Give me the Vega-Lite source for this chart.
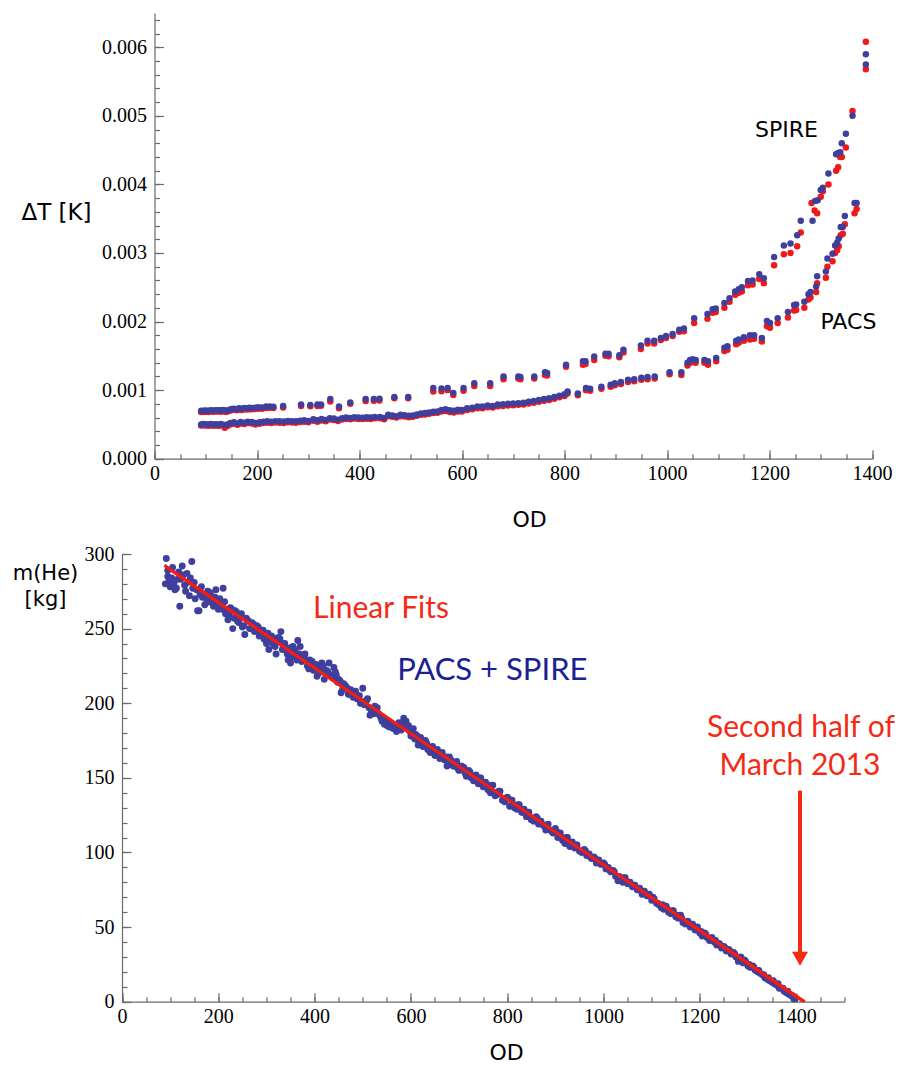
{
"$schema": "https://vega.github.io/schema/vega-lite/v6.json",
"padding": {"left": 11.5, "top": 13, "right": 0, "bottom": 0},
"autosize": {"type": "pad"},
"background": "white",
"spacing": 13,
"config": {
  "view": {"stroke": null},
  "axis": {"domainColor": "#6a6a6a", "tickColor": "#6a6a6a", "domainWidth": 1.2, "tickWidth": 1.2, "labelFont": "Liberation Serif", "labelFontSize": 20, "labelColor": "#000", "titleFont": "DejaVu Sans", "titleFontSize": 22, "titleFontWeight": "normal", "titleColor": "#000", "grid": false, "labelOverlap": false, "labelFlush": false}
},
"datasets": {
  "dt": [
    {"od":91,"dt":0.00068,"c":"r"},{"od":96,"dt":0.000682,"c":"r"},{"od":100,"dt":0.000685,"c":"r"},{"od":105,"dt":0.00068,"c":"r"},{"od":110,"dt":0.000688,"c":"r"},{"od":115,"dt":0.000684,"c":"r"},{"od":120,"dt":0.00069,"c":"r"},{"od":125,"dt":0.000688,"c":"r"},{"od":130,"dt":0.000686,"c":"r"},{"od":135,"dt":0.000692,"c":"r"},{"od":140,"dt":0.00068,"c":"r"},{"od":145,"dt":0.000695,"c":"r"},{"od":150,"dt":0.000705,"c":"r"},{"od":155,"dt":0.000712,"c":"r"},{"od":160,"dt":0.000705,"c":"r"},{"od":165,"dt":0.000715,"c":"r"},{"od":170,"dt":0.00071,"c":"r"},{"od":175,"dt":0.00072,"c":"r"},{"od":180,"dt":0.000716,"c":"r"},{"od":185,"dt":0.000722,"c":"r"},{"od":190,"dt":0.00072,"c":"r"},{"od":196,"dt":0.000725,"c":"r"},{"od":202,"dt":0.00073,"c":"r"},{"od":210,"dt":0.00073,"c":"r"},{"od":218,"dt":0.00074,"c":"r"},{"od":225,"dt":0.000742,"c":"r"},{"od":232,"dt":0.00074,"c":"r"},{"od":251,"dt":0.000745,"c":"r"},{"od":286,"dt":0.00077,"c":"r"},{"od":304,"dt":0.000765,"c":"r"},{"od":318,"dt":0.00077,"c":"r"},{"od":325,"dt":0.000772,"c":"r"},{"od":343,"dt":0.000835,"c":"r"},{"od":360,"dt":0.000735,"c":"r"},{"od":382,"dt":0.0008,"c":"r"},{"od":412,"dt":0.00084,"c":"r"},{"od":428,"dt":0.000845,"c":"r"},{"od":439,"dt":0.00085,"c":"r"},{"od":468,"dt":0.00088,"c":"r"},{"od":495,"dt":0.00088,"c":"r"},{"od":544,"dt":0.00098,"c":"r"},{"od":560,"dt":0.000985,"c":"r"},{"od":572,"dt":0.001,"c":"r"},{"od":583,"dt":0.00093,"c":"r"},{"od":603,"dt":0.00099,"c":"r"},{"od":624,"dt":0.00106,"c":"r"},{"od":655,"dt":0.00106,"c":"r"},{"od":681,"dt":0.00116,"c":"r"},{"od":710,"dt":0.00117,"c":"r"},{"od":714,"dt":0.00116,"c":"r"},{"od":741,"dt":0.00117,"c":"r"},{"od":762,"dt":0.00122,"c":"r"},{"od":766,"dt":0.001215,"c":"r"},{"od":803,"dt":0.00134,"c":"r"},{"od":836,"dt":0.00137,"c":"r"},{"od":841,"dt":0.00138,"c":"r"},{"od":858,"dt":0.00144,"c":"r"},{"od":880,"dt":0.0015,"c":"r"},{"od":886,"dt":0.001495,"c":"r"},{"od":907,"dt":0.00148,"c":"r"},{"od":915,"dt":0.00155,"c":"r"},{"od":949,"dt":0.0016,"c":"r"},{"od":962,"dt":0.00168,"c":"r"},{"od":975,"dt":0.00168,"c":"r"},{"od":988,"dt":0.00173,"c":"r"},{"od":998,"dt":0.00176,"c":"r"},{"od":1011,"dt":0.00179,"c":"r"},{"od":1024,"dt":0.00185,"c":"r"},{"od":1033,"dt":0.00186,"c":"r"},{"od":1053,"dt":0.00198,"c":"r"},{"od":1079,"dt":0.00204,"c":"r"},{"od":1089,"dt":0.00213,"c":"r"},{"od":1095,"dt":0.00214,"c":"r"},{"od":1112,"dt":0.0022,"c":"r"},{"od":1122,"dt":0.00229,"c":"r"},{"od":1133,"dt":0.00239,"c":"r"},{"od":1140,"dt":0.00242,"c":"r"},{"od":1146,"dt":0.00244,"c":"r"},{"od":1158,"dt":0.00253,"c":"r"},{"od":1167,"dt":0.00254,"c":"r"},{"od":1180,"dt":0.00262,"c":"r"},{"od":1189,"dt":0.00256,"c":"r"},{"od":1209,"dt":0.00282,"c":"r"},{"od":1228,"dt":0.00298,"c":"r"},{"od":1241,"dt":0.003,"c":"r"},{"od":1254,"dt":0.0031,"c":"r"},{"od":1261,"dt":0.0033,"c":"r"},{"od":1282,"dt":0.00373,"c":"r"},{"od":1288,"dt":0.00362,"c":"r"},{"od":1293,"dt":0.00358,"c":"r"},{"od":1300,"dt":0.00382,"c":"r"},{"od":1304,"dt":0.0039,"c":"r"},{"od":1315,"dt":0.004,"c":"r"},{"od":1330,"dt":0.0042,"c":"r"},{"od":1334,"dt":0.00425,"c":"r"},{"od":1338,"dt":0.0044,"c":"r"},{"od":1341,"dt":0.0044,"c":"r"},{"od":1349,"dt":0.00454,"c":"r"},{"od":1362,"dt":0.00507,"c":"r"},{"od":1388,"dt":0.00568,"c":"r"},{"od":1388,"dt":0.00608,"c":"r"},
    {"od":91,"dt":0.000485,"c":"r"},{"od":95,"dt":0.000488,"c":"r"},{"od":100,"dt":0.000484,"c":"r"},{"od":105,"dt":0.000482,"c":"r"},{"od":110,"dt":0.000488,"c":"r"},{"od":115,"dt":0.000482,"c":"r"},{"od":120,"dt":0.000485,"c":"r"},{"od":125,"dt":0.00048,"c":"r"},{"od":130,"dt":0.000486,"c":"r"},{"od":137,"dt":0.00045,"c":"r"},{"od":142,"dt":0.000478,"c":"r"},{"od":148,"dt":0.0005,"c":"r"},{"od":155,"dt":0.000508,"c":"r"},{"od":162,"dt":0.000495,"c":"r"},{"od":168,"dt":0.000515,"c":"r"},{"od":175,"dt":0.000505,"c":"r"},{"od":182,"dt":0.00052,"c":"r"},{"od":190,"dt":0.000515,"c":"r"},{"od":197,"dt":0.0005,"c":"r"},{"od":205,"dt":0.00051,"c":"r"},{"od":212,"dt":0.00052,"c":"r"},{"od":220,"dt":0.000525,"c":"r"},{"od":228,"dt":0.00052,"c":"r"},{"od":236,"dt":0.000528,"c":"r"},{"od":244,"dt":0.000525,"c":"r"},{"od":252,"dt":0.000522,"c":"r"},{"od":260,"dt":0.00053,"c":"r"},{"od":268,"dt":0.000528,"c":"r"},{"od":276,"dt":0.000525,"c":"r"},{"od":284,"dt":0.000535,"c":"r"},{"od":292,"dt":0.00054,"c":"r"},{"od":300,"dt":0.00053,"c":"r"},{"od":310,"dt":0.000555,"c":"r"},{"od":318,"dt":0.00054,"c":"r"},{"od":326,"dt":0.000558,"c":"r"},{"od":334,"dt":0.000545,"c":"r"},{"od":342,"dt":0.00057,"c":"r"},{"od":350,"dt":0.000565,"c":"r"},{"od":358,"dt":0.00055,"c":"r"},{"od":366,"dt":0.00057,"c":"r"},{"od":374,"dt":0.00058,"c":"r"},{"od":382,"dt":0.000575,"c":"r"},{"od":390,"dt":0.000585,"c":"r"},{"od":398,"dt":0.00058,"c":"r"},{"od":406,"dt":0.000578,"c":"r"},{"od":414,"dt":0.000583,"c":"r"},{"od":422,"dt":0.00058,"c":"r"},{"od":430,"dt":0.00059,"c":"r"},{"od":440,"dt":0.00059,"c":"r"},{"od":448,"dt":0.000575,"c":"r"},{"od":456,"dt":0.00062,"c":"r"},{"od":464,"dt":0.00061,"c":"r"},{"od":472,"dt":0.0006,"c":"r"},{"od":480,"dt":0.00062,"c":"r"},{"od":488,"dt":0.000615,"c":"r"},{"od":496,"dt":0.000605,"c":"r"},{"od":504,"dt":0.00061,"c":"r"},{"od":512,"dt":0.000625,"c":"r"},{"od":520,"dt":0.00064,"c":"r"},{"od":528,"dt":0.000645,"c":"r"},{"od":536,"dt":0.000655,"c":"r"},{"od":544,"dt":0.000665,"c":"r"},{"od":552,"dt":0.00067,"c":"r"},{"od":560,"dt":0.00069,"c":"r"},{"od":568,"dt":0.000695,"c":"r"},{"od":576,"dt":0.00068,"c":"r"},{"od":584,"dt":0.000675,"c":"r"},{"od":592,"dt":0.00069,"c":"r"},{"od":600,"dt":0.000688,"c":"r"},{"od":610,"dt":0.00071,"c":"r"},{"od":620,"dt":0.00072,"c":"r"},{"od":630,"dt":0.000735,"c":"r"},{"od":640,"dt":0.000735,"c":"r"},{"od":650,"dt":0.00075,"c":"r"},{"od":660,"dt":0.000745,"c":"r"},{"od":670,"dt":0.000765,"c":"r"},{"od":680,"dt":0.00077,"c":"r"},{"od":690,"dt":0.000775,"c":"r"},{"od":700,"dt":0.00078,"c":"r"},{"od":710,"dt":0.000785,"c":"r"},{"od":720,"dt":0.00079,"c":"r"},{"od":730,"dt":0.000805,"c":"r"},{"od":740,"dt":0.000815,"c":"r"},{"od":750,"dt":0.00083,"c":"r"},{"od":760,"dt":0.000845,"c":"r"},{"od":770,"dt":0.000855,"c":"r"},{"od":780,"dt":0.000875,"c":"r"},{"od":790,"dt":0.000895,"c":"r"},{"od":800,"dt":0.000915,"c":"r"},{"od":806,"dt":0.00095,"c":"r"},{"od":826,"dt":0.000925,"c":"r"},{"od":842,"dt":0.001,"c":"r"},{"od":850,"dt":0.00099,"c":"r"},{"od":872,"dt":0.00102,"c":"r"},{"od":890,"dt":0.00105,"c":"r"},{"od":898,"dt":0.00107,"c":"r"},{"od":910,"dt":0.00109,"c":"r"},{"od":924,"dt":0.00112,"c":"r"},{"od":936,"dt":0.00113,"c":"r"},{"od":950,"dt":0.00115,"c":"r"},{"od":962,"dt":0.00116,"c":"r"},{"od":976,"dt":0.00117,"c":"r"},{"od":1005,"dt":0.00123,"c":"r"},{"od":1028,"dt":0.00122,"c":"r"},{"od":1040,"dt":0.00136,"c":"r"},{"od":1045,"dt":0.0014,"c":"r"},{"od":1050,"dt":0.00141,"c":"r"},{"od":1056,"dt":0.0014,"c":"r"},{"od":1073,"dt":0.0014,"c":"r"},{"od":1080,"dt":0.00137,"c":"r"},{"od":1096,"dt":0.00142,"c":"r"},{"od":1112,"dt":0.00157,"c":"r"},{"od":1118,"dt":0.00159,"c":"r"},{"od":1135,"dt":0.00167,"c":"r"},{"od":1140,"dt":0.00169,"c":"r"},{"od":1150,"dt":0.00172,"c":"r"},{"od":1162,"dt":0.00174,"c":"r"},{"od":1170,"dt":0.00175,"c":"r"},{"od":1185,"dt":0.00171,"c":"r"},{"od":1195,"dt":0.00193,"c":"r"},{"od":1201,"dt":0.00191,"c":"r"},{"od":1216,"dt":0.00198,"c":"r"},{"od":1236,"dt":0.00206,"c":"r"},{"od":1248,"dt":0.00216,"c":"r"},{"od":1252,"dt":0.00217,"c":"r"},{"od":1268,"dt":0.0022,"c":"r"},{"od":1276,"dt":0.00232,"c":"r"},{"od":1280,"dt":0.00235,"c":"r"},{"od":1291,"dt":0.00243,"c":"r"},{"od":1293,"dt":0.00256,"c":"r"},{"od":1310,"dt":0.00264,"c":"r"},{"od":1313,"dt":0.0028,"c":"r"},{"od":1323,"dt":0.00288,"c":"r"},{"od":1328,"dt":0.003,"c":"r"},{"od":1332,"dt":0.00304,"c":"r"},{"od":1335,"dt":0.0031,"c":"r"},{"od":1339,"dt":0.00326,"c":"r"},{"od":1343,"dt":0.00328,"c":"r"},{"od":1347,"dt":0.00342,"c":"r"},{"od":1366,"dt":0.00358,"c":"r"},{"od":1370,"dt":0.00364,"c":"r"},
    {"od":91,"dt":0.0007,"c":"b"},{"od":96,"dt":0.0007,"c":"b"},{"od":100,"dt":0.000702,"c":"b"},{"od":105,"dt":0.0007,"c":"b"},{"od":110,"dt":0.000705,"c":"b"},{"od":115,"dt":0.000703,"c":"b"},{"od":120,"dt":0.000708,"c":"b"},{"od":125,"dt":0.000705,"c":"b"},{"od":130,"dt":0.000706,"c":"b"},{"od":135,"dt":0.00071,"c":"b"},{"od":140,"dt":0.0007,"c":"b"},{"od":145,"dt":0.000712,"c":"b"},{"od":150,"dt":0.000725,"c":"b"},{"od":155,"dt":0.00073,"c":"b"},{"od":160,"dt":0.000722,"c":"b"},{"od":165,"dt":0.000735,"c":"b"},{"od":170,"dt":0.000728,"c":"b"},{"od":175,"dt":0.00074,"c":"b"},{"od":180,"dt":0.000735,"c":"b"},{"od":185,"dt":0.000742,"c":"b"},{"od":190,"dt":0.000738,"c":"b"},{"od":196,"dt":0.000745,"c":"b"},{"od":202,"dt":0.00075,"c":"b"},{"od":210,"dt":0.000748,"c":"b"},{"od":218,"dt":0.00076,"c":"b"},{"od":225,"dt":0.000762,"c":"b"},{"od":232,"dt":0.000758,"c":"b"},{"od":251,"dt":0.00077,"c":"b"},{"od":286,"dt":0.00079,"c":"b"},{"od":304,"dt":0.000785,"c":"b"},{"od":318,"dt":0.00079,"c":"b"},{"od":325,"dt":0.00079,"c":"b"},{"od":343,"dt":0.00087,"c":"b"},{"od":360,"dt":0.00076,"c":"b"},{"od":382,"dt":0.00082,"c":"b"},{"od":412,"dt":0.00087,"c":"b"},{"od":428,"dt":0.00087,"c":"b"},{"od":439,"dt":0.000875,"c":"b"},{"od":468,"dt":0.0009,"c":"b"},{"od":495,"dt":0.0009,"c":"b"},{"od":544,"dt":0.00103,"c":"b"},{"od":560,"dt":0.001025,"c":"b"},{"od":572,"dt":0.00103,"c":"b"},{"od":583,"dt":0.00096,"c":"b"},{"od":603,"dt":0.00103,"c":"b"},{"od":624,"dt":0.0011,"c":"b"},{"od":655,"dt":0.0011,"c":"b"},{"od":681,"dt":0.0012,"c":"b"},{"od":710,"dt":0.0012,"c":"b"},{"od":714,"dt":0.00119,"c":"b"},{"od":741,"dt":0.0012,"c":"b"},{"od":762,"dt":0.00126,"c":"b"},{"od":766,"dt":0.00125,"c":"b"},{"od":803,"dt":0.00137,"c":"b"},{"od":836,"dt":0.00142,"c":"b"},{"od":841,"dt":0.00142,"c":"b"},{"od":858,"dt":0.00149,"c":"b"},{"od":880,"dt":0.00153,"c":"b"},{"od":886,"dt":0.00153,"c":"b"},{"od":907,"dt":0.00151,"c":"b"},{"od":915,"dt":0.00159,"c":"b"},{"od":949,"dt":0.00165,"c":"b"},{"od":962,"dt":0.00172,"c":"b"},{"od":975,"dt":0.00172,"c":"b"},{"od":988,"dt":0.00176,"c":"b"},{"od":998,"dt":0.00179,"c":"b"},{"od":1011,"dt":0.00182,"c":"b"},{"od":1024,"dt":0.00188,"c":"b"},{"od":1033,"dt":0.0019,"c":"b"},{"od":1053,"dt":0.00205,"c":"b"},{"od":1079,"dt":0.00211,"c":"b"},{"od":1089,"dt":0.00218,"c":"b"},{"od":1095,"dt":0.00219,"c":"b"},{"od":1112,"dt":0.00227,"c":"b"},{"od":1122,"dt":0.00234,"c":"b"},{"od":1133,"dt":0.00244,"c":"b"},{"od":1140,"dt":0.00247,"c":"b"},{"od":1146,"dt":0.0025,"c":"b"},{"od":1158,"dt":0.00259,"c":"b"},{"od":1167,"dt":0.0026,"c":"b"},{"od":1180,"dt":0.00269,"c":"b"},{"od":1189,"dt":0.00263,"c":"b"},{"od":1209,"dt":0.00294,"c":"b"},{"od":1228,"dt":0.00311,"c":"b"},{"od":1241,"dt":0.00314,"c":"b"},{"od":1254,"dt":0.00326,"c":"b"},{"od":1261,"dt":0.00347,"c":"b"},{"od":1284,"dt":0.00347,"c":"b"},{"od":1289,"dt":0.00376,"c":"b"},{"od":1294,"dt":0.00377,"c":"b"},{"od":1300,"dt":0.00392,"c":"b"},{"od":1304,"dt":0.00395,"c":"b"},{"od":1315,"dt":0.00416,"c":"b"},{"od":1330,"dt":0.00444,"c":"b"},{"od":1334,"dt":0.00446,"c":"b"},{"od":1338,"dt":0.00447,"c":"b"},{"od":1341,"dt":0.0046,"c":"b"},{"od":1349,"dt":0.00474,"c":"b"},{"od":1362,"dt":0.005,"c":"b"},{"od":1388,"dt":0.00575,"c":"b"},{"od":1388,"dt":0.0059,"c":"b"},
    {"od":91,"dt":0.0005,"c":"b"},{"od":95,"dt":0.000505,"c":"b"},{"od":100,"dt":0.000502,"c":"b"},{"od":105,"dt":0.0005,"c":"b"},{"od":110,"dt":0.000505,"c":"b"},{"od":115,"dt":0.0005,"c":"b"},{"od":120,"dt":0.000503,"c":"b"},{"od":125,"dt":0.000498,"c":"b"},{"od":130,"dt":0.000505,"c":"b"},{"od":137,"dt":0.00049,"c":"b"},{"od":142,"dt":0.0005,"c":"b"},{"od":148,"dt":0.00052,"c":"b"},{"od":155,"dt":0.00053,"c":"b"},{"od":162,"dt":0.000515,"c":"b"},{"od":168,"dt":0.000535,"c":"b"},{"od":175,"dt":0.000525,"c":"b"},{"od":182,"dt":0.00054,"c":"b"},{"od":190,"dt":0.000535,"c":"b"},{"od":197,"dt":0.00052,"c":"b"},{"od":205,"dt":0.00053,"c":"b"},{"od":212,"dt":0.00054,"c":"b"},{"od":220,"dt":0.000545,"c":"b"},{"od":228,"dt":0.00054,"c":"b"},{"od":236,"dt":0.000548,"c":"b"},{"od":244,"dt":0.000545,"c":"b"},{"od":252,"dt":0.000542,"c":"b"},{"od":260,"dt":0.00055,"c":"b"},{"od":268,"dt":0.000548,"c":"b"},{"od":276,"dt":0.000545,"c":"b"},{"od":284,"dt":0.000555,"c":"b"},{"od":292,"dt":0.00056,"c":"b"},{"od":300,"dt":0.00055,"c":"b"},{"od":310,"dt":0.000575,"c":"b"},{"od":318,"dt":0.00056,"c":"b"},{"od":326,"dt":0.000578,"c":"b"},{"od":334,"dt":0.000565,"c":"b"},{"od":342,"dt":0.00059,"c":"b"},{"od":350,"dt":0.000585,"c":"b"},{"od":358,"dt":0.00057,"c":"b"},{"od":366,"dt":0.00059,"c":"b"},{"od":374,"dt":0.0006,"c":"b"},{"od":382,"dt":0.000595,"c":"b"},{"od":390,"dt":0.000605,"c":"b"},{"od":398,"dt":0.0006,"c":"b"},{"od":406,"dt":0.000598,"c":"b"},{"od":414,"dt":0.000603,"c":"b"},{"od":422,"dt":0.0006,"c":"b"},{"od":430,"dt":0.00061,"c":"b"},{"od":440,"dt":0.00061,"c":"b"},{"od":448,"dt":0.000595,"c":"b"},{"od":456,"dt":0.00064,"c":"b"},{"od":464,"dt":0.00063,"c":"b"},{"od":472,"dt":0.00062,"c":"b"},{"od":480,"dt":0.00064,"c":"b"},{"od":488,"dt":0.000635,"c":"b"},{"od":496,"dt":0.000625,"c":"b"},{"od":504,"dt":0.00063,"c":"b"},{"od":512,"dt":0.000645,"c":"b"},{"od":520,"dt":0.00066,"c":"b"},{"od":528,"dt":0.000665,"c":"b"},{"od":536,"dt":0.000675,"c":"b"},{"od":544,"dt":0.000685,"c":"b"},{"od":552,"dt":0.00069,"c":"b"},{"od":560,"dt":0.00071,"c":"b"},{"od":568,"dt":0.00072,"c":"b"},{"od":576,"dt":0.000705,"c":"b"},{"od":584,"dt":0.0007,"c":"b"},{"od":592,"dt":0.000715,"c":"b"},{"od":600,"dt":0.000712,"c":"b"},{"od":610,"dt":0.000735,"c":"b"},{"od":620,"dt":0.000745,"c":"b"},{"od":630,"dt":0.00076,"c":"b"},{"od":640,"dt":0.00076,"c":"b"},{"od":650,"dt":0.000775,"c":"b"},{"od":660,"dt":0.00077,"c":"b"},{"od":670,"dt":0.00079,"c":"b"},{"od":680,"dt":0.000795,"c":"b"},{"od":690,"dt":0.0008,"c":"b"},{"od":700,"dt":0.000805,"c":"b"},{"od":710,"dt":0.00081,"c":"b"},{"od":720,"dt":0.000815,"c":"b"},{"od":730,"dt":0.00083,"c":"b"},{"od":740,"dt":0.00084,"c":"b"},{"od":750,"dt":0.000855,"c":"b"},{"od":760,"dt":0.00087,"c":"b"},{"od":770,"dt":0.00088,"c":"b"},{"od":780,"dt":0.0009,"c":"b"},{"od":790,"dt":0.00092,"c":"b"},{"od":800,"dt":0.00094,"c":"b"},{"od":806,"dt":0.00098,"c":"b"},{"od":826,"dt":0.00095,"c":"b"},{"od":842,"dt":0.00103,"c":"b"},{"od":850,"dt":0.00102,"c":"b"},{"od":872,"dt":0.00105,"c":"b"},{"od":890,"dt":0.00108,"c":"b"},{"od":898,"dt":0.0011,"c":"b"},{"od":910,"dt":0.00112,"c":"b"},{"od":924,"dt":0.00115,"c":"b"},{"od":936,"dt":0.00116,"c":"b"},{"od":950,"dt":0.00118,"c":"b"},{"od":962,"dt":0.00119,"c":"b"},{"od":976,"dt":0.0012,"c":"b"},{"od":1005,"dt":0.00126,"c":"b"},{"od":1028,"dt":0.00126,"c":"b"},{"od":1040,"dt":0.0014,"c":"b"},{"od":1045,"dt":0.00144,"c":"b"},{"od":1050,"dt":0.00145,"c":"b"},{"od":1056,"dt":0.00144,"c":"b"},{"od":1073,"dt":0.00144,"c":"b"},{"od":1080,"dt":0.00142,"c":"b"},{"od":1096,"dt":0.00147,"c":"b"},{"od":1112,"dt":0.00162,"c":"b"},{"od":1118,"dt":0.00164,"c":"b"},{"od":1135,"dt":0.00172,"c":"b"},{"od":1140,"dt":0.00174,"c":"b"},{"od":1150,"dt":0.00177,"c":"b"},{"od":1162,"dt":0.0018,"c":"b"},{"od":1170,"dt":0.0018,"c":"b"},{"od":1185,"dt":0.00176,"c":"b"},{"od":1195,"dt":0.00201,"c":"b"},{"od":1201,"dt":0.00198,"c":"b"},{"od":1216,"dt":0.00205,"c":"b"},{"od":1236,"dt":0.00214,"c":"b"},{"od":1248,"dt":0.00224,"c":"b"},{"od":1252,"dt":0.00225,"c":"b"},{"od":1268,"dt":0.00229,"c":"b"},{"od":1276,"dt":0.0024,"c":"b"},{"od":1280,"dt":0.00243,"c":"b"},{"od":1291,"dt":0.00251,"c":"b"},{"od":1293,"dt":0.00266,"c":"b"},{"od":1310,"dt":0.00273,"c":"b"},{"od":1313,"dt":0.00292,"c":"b"},{"od":1323,"dt":0.00299,"c":"b"},{"od":1328,"dt":0.00311,"c":"b"},{"od":1332,"dt":0.00315,"c":"b"},{"od":1335,"dt":0.00321,"c":"b"},{"od":1339,"dt":0.00338,"c":"b"},{"od":1343,"dt":0.00338,"c":"b"},{"od":1347,"dt":0.00354,"c":"b"},{"od":1366,"dt":0.00373,"c":"b"},{"od":1370,"dt":0.00373,"c":"b"}
  ],
  "toplabels": [
    {"od":1233,"dt":0.00479,"t":"SPIRE"},{"od":1354,"dt":0.00199,"t":"PACS"}
  ],
  "mhe": [
    {"od":90,"m":280},{"od":92,"m":297},{"od":95,"m":285},{"od":95,"m":289},{"od":98,"m":282},{"od":100,"m":278},{"od":103,"m":284},{"od":105,"m":291},{"od":108,"m":280},{"od":110,"m":276},{"od":113,"m":277},{"od":115,"m":283},{"od":118,"m":288},{"od":120,"m":265},{"od":122,"m":283},{"od":125,"m":292},{"od":127,"m":286},{"od":130,"m":279},{"od":132,"m":275},{"od":135,"m":287},{"od":137,"m":281},{"od":140,"m":272},{"od":142,"m":284},{"od":145,"m":295},{"od":147,"m":277},{"od":150,"m":281},{"od":152,"m":270},{"od":155,"m":276},{"od":157,"m":262},{"od":160,"m":262},{"od":162,"m":273},{"od":165,"m":278},{"od":167,"m":271},{"od":170,"m":273},{"od":172,"m":266},{"od":175,"m":270},{"od":178,"m":275},{"od":180,"m":268},{"od":185,"m":272},{"od":190,"m":265},{"od":195,"m":276},{"od":200,"m":263},{"od":205,"m":268},{"od":210,"m":277},{"od":215,"m":260},{"od":220,"m":256},{"od":225,"m":264},{"od":230,"m":250},{"od":235,"m":262},{"od":240,"m":255},{"od":245,"m":258},{"od":250,"m":251},{"od":255,"m":246},{"od":260,"m":256},{"od":265,"m":250},{"od":270,"m":254},{"od":275,"m":248},{"od":280,"m":252},{"od":285,"m":245},{"od":290,"m":247},{"od":295,"m":243},{"od":300,"m":240},{"od":305,"m":236},{"od":310,"m":245},{"od":315,"m":239},{"od":320,"m":233},{"od":325,"m":244},{"od":330,"m":248},{"od":335,"m":240},{"od":340,"m":236},{"od":345,"m":229},{"od":350,"m":227},{"od":355,"m":238},{"od":360,"m":235},{"od":365,"m":242},{"od":370,"m":238},{"od":375,"m":231},{"od":380,"m":233},{"od":385,"m":225},{"od":390,"m":229},{"od":395,"m":228},{"od":400,"m":226},{"od":405,"m":218},{"od":410,"m":224},{"od":415,"m":227},{"od":420,"m":216},{"od":425,"m":222},{"od":430,"m":227},{"od":435,"m":218},{"od":440,"m":224},{"od":445,"m":219},{"od":450,"m":216},{"od":455,"m":207},{"od":460,"m":213},{"od":465,"m":211},{"od":470,"m":206},{"od":475,"m":209},{"od":480,"m":204},{"od":485,"m":208},{"od":490,"m":205},{"od":495,"m":200},{"od":500,"m":210},{"od":505,"m":201},{"od":510,"m":203},{"od":515,"m":192},{"od":520,"m":194},{"od":525,"m":198},{"od":530,"m":197},{"od":535,"m":192},{"od":540,"m":188},{"od":545,"m":186},{"od":550,"m":185},{"od":555,"m":184},{"od":560,"m":186},{"od":565,"m":184},{"od":570,"m":181},{"od":575,"m":187},{"od":580,"m":182},{"od":585,"m":190},{"od":590,"m":188},{"od":595,"m":185},{"od":600,"m":178},{"od":605,"m":183},{"od":610,"m":179},{"od":615,"m":172},{"od":620,"m":177},{"od":625,"m":171},{"od":630,"m":175},{"od":635,"m":169},{"od":640,"m":167},{"od":645,"m":171},{"od":650,"m":165},{"od":655,"m":169},{"od":660,"m":163},{"od":665,"m":167},{"od":670,"m":162},{"od":675,"m":158},{"od":680,"m":164},{"od":685,"m":160},{"od":690,"m":158},{"od":695,"m":161},{"od":700,"m":155},{"od":705,"m":158},{"od":710,"m":157},{"od":715,"m":151},{"od":720,"m":155},{"od":725,"m":150},{"od":730,"m":148},{"od":735,"m":152},{"od":740,"m":146},{"od":745,"m":150},{"od":750,"m":144},{"od":755,"m":147},{"od":760,"m":142},{"od":765,"m":140},{"od":770,"m":145},{"od":775,"m":138},{"od":780,"m":139},{"od":785,"m":141},{"od":790,"m":135},{"od":795,"m":134},{"od":800,"m":137},{"od":805,"m":131},{"od":810,"m":135},{"od":815,"m":130},{"od":820,"m":129},{"od":825,"m":132},{"od":830,"m":127},{"od":835,"m":129},{"od":840,"m":124},{"od":845,"m":127},{"od":850,"m":122},{"od":855,"m":121},{"od":860,"m":124},{"od":865,"m":119},{"od":870,"m":121},{"od":875,"m":118},{"od":880,"m":115},{"od":885,"m":119},{"od":890,"m":115},{"od":895,"m":113},{"od":900,"m":116},{"od":905,"m":110},{"od":910,"m":113},{"od":915,"m":108},{"od":920,"m":106},{"od":925,"m":110},{"od":930,"m":104},{"od":935,"m":107},{"od":940,"m":103},{"od":945,"m":105},{"od":950,"m":101},{"od":955,"m":100},{"od":960,"m":102},{"od":965,"m":98},{"od":970,"m":99},{"od":975,"m":96},{"od":980,"m":97},{"od":985,"m":93},{"od":990,"m":95},{"od":995,"m":92},{"od":1000,"m":93},{"od":1005,"m":89},{"od":1010,"m":90},{"od":1015,"m":87},{"od":1020,"m":88},{"od":1025,"m":84},{"od":1030,"m":81},{"od":1035,"m":82},{"od":1040,"m":80},{"od":1045,"m":83},{"od":1050,"m":79},{"od":1055,"m":80},{"od":1060,"m":77},{"od":1065,"m":78},{"od":1070,"m":75},{"od":1075,"m":76},{"od":1080,"m":72},{"od":1085,"m":74},{"od":1090,"m":71},{"od":1095,"m":72},{"od":1100,"m":68},{"od":1105,"m":69},{"od":1110,"m":66},{"od":1115,"m":65},{"od":1120,"m":63},{"od":1125,"m":62},{"od":1130,"m":64},{"od":1135,"m":60},{"od":1140,"m":59},{"od":1145,"m":61},{"od":1150,"m":57},{"od":1155,"m":56},{"od":1160,"m":58},{"od":1165,"m":53},{"od":1170,"m":52},{"od":1175,"m":54},{"od":1180,"m":50},{"od":1185,"m":52},{"od":1190,"m":48},{"od":1195,"m":50},{"od":1200,"m":46},{"od":1205,"m":44},{"od":1210,"m":46},{"od":1215,"m":43},{"od":1220,"m":41},{"od":1225,"m":43},{"od":1230,"m":40},{"od":1235,"m":38},{"od":1240,"m":39},{"od":1245,"m":36},{"od":1250,"m":37},{"od":1255,"m":34},{"od":1260,"m":35},{"od":1265,"m":32},{"od":1270,"m":33},{"od":1275,"m":30},{"od":1280,"m":27},{"od":1285,"m":30},{"od":1290,"m":26},{"od":1295,"m":27},{"od":1300,"m":24},{"od":1305,"m":23},{"od":1310,"m":24},{"od":1315,"m":21},{"od":1320,"m":20},{"od":1325,"m":19},{"od":1330,"m":18},{"od":1335,"m":16},{"od":1340,"m":15},{"od":1345,"m":14},{"od":1350,"m":13},{"od":1355,"m":12},{"od":1360,"m":11},{"od":1365,"m":9},{"od":1370,"m":9},{"od":1375,"m":7},{"od":1380,"m":6},{"od":1385,"m":5},{"od":1390,"m":4},{"od":1395,"m":2},{"od":1398,"m":2},
    {"od":183,"m":274},{"od":188,"m":267},{"od":193,"m":271},{"od":198,"m":266},{"od":203,"m":270},{"od":208,"m":263},{"od":213,"m":268},{"od":218,"m":262},{"od":223,"m":259},{"od":228,"m":263},{"od":233,"m":257},{"od":238,"m":261},{"od":243,"m":254},{"od":248,"m":260},{"od":253,"m":252},{"od":258,"m":257},{"od":263,"m":255},{"od":268,"m":250},{"od":273,"m":253},{"od":278,"m":249},{"od":283,"m":251},{"od":288,"m":246},{"od":293,"m":249},{"od":298,"m":243},{"od":303,"m":247},{"od":308,"m":241},{"od":313,"m":244},{"od":318,"m":238},{"od":323,"m":242},{"od":328,"m":243},{"od":333,"m":236},{"od":338,"m":240},{"od":343,"m":233},{"od":348,"m":237},{"od":353,"m":231},{"od":358,"m":236},{"od":363,"m":229},{"od":368,"m":233},{"od":373,"m":228},{"od":378,"m":231},{"od":383,"m":229},{"od":388,"m":223},{"od":393,"m":227},{"od":398,"m":222},{"od":403,"m":226},{"od":408,"m":220},{"od":413,"m":223},{"od":418,"m":225},{"od":423,"m":220},{"od":428,"m":221},{"od":433,"m":219},{"od":438,"m":217},{"od":443,"m":221},{"od":448,"m":214},{"od":453,"m":215},{"od":458,"m":209},{"od":463,"m":212},{"od":468,"m":210},{"od":473,"m":206},{"od":478,"m":208},{"od":483,"m":206},{"od":488,"m":203},{"od":493,"m":205},{"od":498,"m":201},{"od":503,"m":199},{"od":508,"m":202},{"od":513,"m":197},{"od":518,"m":195},{"od":523,"m":193},{"od":528,"m":194},{"od":533,"m":193},{"od":538,"m":190},{"od":543,"m":189},{"od":548,"m":187},{"od":553,"m":188},{"od":558,"m":185},{"od":563,"m":183},{"od":568,"m":185},{"od":573,"m":183},{"od":578,"m":186},{"od":583,"m":187},{"od":588,"m":184},{"od":593,"m":183},{"od":598,"m":181},{"od":603,"m":180},{"od":608,"m":176},{"od":613,"m":178},{"od":618,"m":174},{"od":623,"m":175},{"od":628,"m":172},{"od":633,"m":173},{"od":638,"m":169},{"od":643,"m":170},{"od":648,"m":167},{"od":653,"m":168},{"od":658,"m":165},{"od":663,"m":166},{"od":668,"m":163},{"od":673,"m":164},{"od":678,"m":160},{"od":683,"m":162},{"od":688,"m":158},{"od":693,"m":160},{"od":698,"m":156},
    {"od":702.5,"m":157},{"od":712.5,"m":153},{"od":722.5,"m":154},{"od":732.5,"m":149},{"od":742.5,"m":150},{"od":752.5,"m":145},{"od":762.5,"m":145},{"od":772.5,"m":140},{"od":782.5,"m":141},{"od":792.5,"m":136},{"od":802.5,"m":136},{"od":812.5,"m":132},{"od":822.5,"m":132},{"od":832.5,"m":127},{"od":842.5,"m":127},{"od":852.5,"m":123},{"od":862.5,"m":123},{"od":872.5,"m":119},{"od":882.5,"m":118},{"od":892.5,"m":114},{"od":902.5,"m":114},{"od":912.5,"m":110},{"od":922.5,"m":110},{"od":932.5,"m":106},{"od":942.5,"m":105},{"od":952.5,"m":101},{"od":962.5,"m":101},{"od":972.5,"m":97},{"od":982.5,"m":96},{"od":992.5,"m":93},{"od":1002.5,"m":92},{"od":1012.5,"m":88},{"od":1022.5,"m":87},{"od":1032.5,"m":84},{"od":1042.5,"m":83},{"od":1052.5,"m":80},{"od":1062.5,"m":78},{"od":1072.5,"m":75},{"od":1082.5,"m":74},{"od":1092.5,"m":71},{"od":1102.5,"m":70},{"od":1112.5,"m":66},{"od":1122.5,"m":65},{"od":1132.5,"m":62},{"od":1142.5,"m":61},{"od":1152.5,"m":58},{"od":1162.5,"m":56},{"od":1172.5,"m":53},{"od":1182.5,"m":52},{"od":1192.5,"m":49},{"od":1202.5,"m":47},{"od":1212.5,"m":45},{"od":1222.5,"m":42},{"od":1232.5,"m":41},{"od":1242.5,"m":38},{"od":1252.5,"m":36},{"od":1262.5,"m":34},{"od":1272.5,"m":32},{"od":1282.5,"m":29},{"od":1292.5,"m":28},{"od":1302.5,"m":25},{"od":1312.5,"m":23},{"od":1322.5,"m":21},{"od":1332.5,"m":18},{"od":1342.5,"m":16},{"od":1352.5,"m":14},{"od":1362.5,"m":12},{"od":1372.5,"m":9},{"od":1382.5,"m":7},{"od":1392.5,"m":4}
  ],
  "fit": [
    {"od":88,"m":292.5,"g":"a"},{"od":1415,"m":0,"g":"a"},
    {"od":90,"m":291.5,"g":"b"},{"od":1418,"m":0,"g":"b"}
  ],
  "arrow": [
    {"od":1408,"m1":141.4,"m2":31,"mt":28.8}
  ],
  "annot": [
    {"od":538,"m":263.4,"t":"Linear Fits","g":"r"},
    {"od":769,"m":221.8,"t":"PACS + SPIRE","g":"b"},
    {"od":1410,"m":183.6,"t":"Second half of","g":"r"},
    {"od":1408,"m":158.2,"t":"March 2013","g":"r"}
  ]
},
"vconcat": [
  {
    "width": 717.5,
    "height": 445.7,
    "resolve": {"axis": {"x": "independent", "y": "independent"}},
    "layer": [
      {
        "data": {"name": "dt"},
        "mark": {"type": "point", "filled": true, "size": 42, "opacity": 1},
        "encoding": {
          "x": {"field": "od", "type": "quantitative", "scale": {"domain": [0, 1400], "nice": false, "zero": false},
            "axis": {"orient": "bottom", "title": "OD", "values": [0,200,400,600,800,1000,1200,1400], "format": "d", "tickSize": -9, "labelPadding": 14, "titleX": 374.5, "titleY": 61, "titleAlign": "center", "titleBaseline": "middle"}},
          "y": {"field": "dt", "type": "quantitative", "scale": {"domain": [0, 0.0065], "nice": false, "zero": false},
            "axis": {"orient": "left", "title": "ΔT [K]", "titleFontSize": 23, "values": [0,0.001,0.002,0.003,0.004,0.005,0.006], "format": ".3f", "tickSize": -9, "labelPadding": 17, "titleAngle": 0, "titleX": -98.5, "titleY": 199.7, "titleAlign": "center", "titleBaseline": "middle"}},
          "color": {"field": "c", "type": "nominal", "scale": {"domain": ["r", "b"], "range": ["#f21818", "#3f3f9d"]}, "legend": null}
        }
      },
      {
        "data": {"name": "toplabels"},
        "mark": {"type": "text", "font": "DejaVu Sans", "fontSize": 22, "color": "#000", "align": "center", "baseline": "middle"},
        "encoding": {
          "x": {"field": "od", "type": "quantitative",
            "axis": {"orient": "bottom", "title": null, "labels": false, "domain": false, "values": [0,50,100,150,200,250,300,350,400,450,500,550,600,650,700,750,800,850,900,950,1000,1050,1100,1150,1200,1250,1300,1350,1400], "tickSize": -5}},
          "y": {"field": "dt", "type": "quantitative",
            "axis": {"orient": "left", "title": null, "labels": false, "domain": false, "values": [0,0.0002,0.0004,0.0006,0.0008,0.001,0.0012,0.0014,0.0016,0.0018,0.002,0.0022,0.0024,0.0026,0.0028,0.003,0.0032,0.0034,0.0036,0.0038,0.004,0.0042,0.0044,0.0046,0.0048,0.005,0.0052,0.0054,0.0056,0.0058,0.006,0.0062,0.0064], "tickSize": -5}},
          "text": {"field": "t"}
        }
      }
    ]
  },
  {
    "width": 689.8,
    "height": 447.7,
    "resolve": {"axis": {"x": "independent", "y": "independent"}},
    "layer": [
      {
        "data": {"name": "mhe"},
        "mark": {"type": "point", "filled": true, "size": 48, "opacity": 1, "color": "#3f3f9d"},
        "encoding": {
          "x": {"field": "od", "type": "quantitative", "scale": {"domain": [0, 1500], "range": [-32.5, 689.8], "nice": false, "zero": false},
            "axis": {"orient": "bottom", "title": "OD", "values": [0,200,400,600,800,1000,1200,1400], "format": "d", "tickSize": -9, "labelPadding": 14, "titleX": 351.5, "titleY": 51, "titleAlign": "center", "titleBaseline": "middle"}},
          "y": {"field": "m", "type": "quantitative", "scale": {"domain": [0, 300], "nice": false, "zero": false},
            "axis": {"orient": "left", "offset": 32.5, "title": ["m(He)", "[kg]"], "titleFontSize": 21, "values": [0,50,100,150,200,250,300], "format": "d", "tickSize": -9, "labelPadding": 17, "titleAngle": 0, "titleX": -77, "titleY": 19, "titleAlign": "center", "titleBaseline": "middle", "titleLineHeight": 26}}
        }
      },
      {
        "data": {"name": "fit"},
        "mark": {"type": "line", "color": "#f51c10", "strokeWidth": 2.8},
        "encoding": {
          "x": {"field": "od", "type": "quantitative", "axis": null},
          "y": {"field": "m", "type": "quantitative", "axis": null},
          "detail": {"field": "g"}
        }
      },
      {
        "data": {"name": "arrow"},
        "mark": {"type": "rule", "color": "#f52a10", "strokeWidth": 4},
        "encoding": {
          "x": {"field": "od", "type": "quantitative", "axis": null},
          "y": {"field": "m1", "type": "quantitative", "axis": null},
          "y2": {"field": "m2"}
        }
      },
      {
        "data": {"name": "arrow"},
        "mark": {"type": "point", "filled": true, "opacity": 1, "color": "#f52a10", "size": 256, "shape": "M-1,-0.875L1,-0.875L0,0.875Z"},
        "encoding": {
          "x": {"field": "od", "type": "quantitative", "axis": null},
          "y": {"field": "mt", "type": "quantitative", "axis": null}
        }
      },
      {
        "data": {"name": "annot"},
        "transform": [{"filter": "datum.g == 'r'"}],
        "mark": {"type": "text", "font": "Lato", "fontSize": 30, "align": "center", "baseline": "middle", "color": "#f52a14"},
        "encoding": {
          "x": {"field": "od", "type": "quantitative",
            "axis": {"orient": "bottom", "title": null, "labels": false, "domain": false, "values": [0,50,100,150,200,250,300,350,400,450,500,550,600,650,700,750,800,850,900,950,1000,1050,1100,1150,1200,1250,1300,1350,1400,1450,1500], "tickSize": -5}},
          "y": {"field": "m", "type": "quantitative",
            "axis": {"orient": "left", "offset": 32.5, "title": null, "labels": false, "domain": false, "values": [0,10,20,30,40,50,60,70,80,90,100,110,120,130,140,150,160,170,180,190,200,210,220,230,240,250,260,270,280,290,300], "tickSize": -5}},
          "text": {"field": "t"}
        }
      },
      {
        "data": {"name": "annot"},
        "transform": [{"filter": "datum.g == 'b'"}],
        "mark": {"type": "text", "font": "Lato", "fontSize": 31, "align": "center", "baseline": "middle", "color": "#1a2292"},
        "encoding": {
          "x": {"field": "od", "type": "quantitative", "axis": null},
          "y": {"field": "m", "type": "quantitative", "axis": null},
          "text": {"field": "t"}
        }
      }
    ]
  }
]
}
